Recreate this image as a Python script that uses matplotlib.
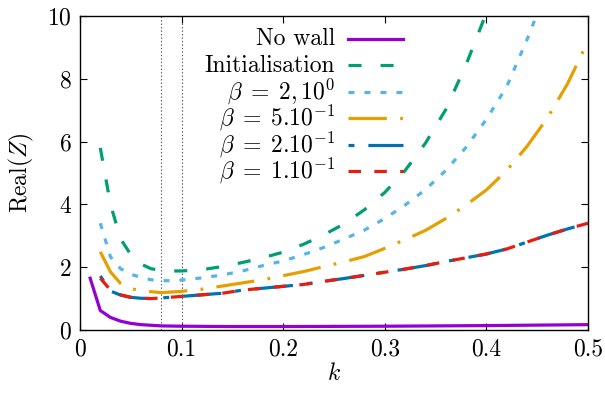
#!/usr/bin/env python3

import numpy as np
import matplotlib
matplotlib.use('Agg')
import matplotlib.pyplot as plt

plt.rcParams['font.family'] = 'serif'
plt.rcParams['font.serif'] = ['cmr10']
plt.rcParams['mathtext.fontset'] = 'cm'
plt.rcParams['axes.formatter.use_mathtext'] = True
plt.rcParams['lines.scale_dashes'] = False

# values
kNoWall = [0.01, 0.02, 0.03, 0.04, 0.05, 0.06, 0.08, 0.1, 0.15, 0.2, 0.3, 0.4, 0.5]
zNoWall = [1.65, 0.62, 0.40, 0.28, 0.21, 0.17, 0.13, 0.12, 0.11, 0.11, 0.12, 0.14, 0.17]

kInit = [0.02, 0.03, 0.04, 0.05, 0.06, 0.07, 0.08, 0.09, 0.1, 0.12, 0.14, 0.16,
         0.18, 0.2, 0.22, 0.24, 0.26, 0.28, 0.3, 0.32, 0.34, 0.36, 0.38, 0.4, 0.42]
zInit = [5.8, 4.0, 2.9, 2.4, 2.1, 1.95, 1.9, 1.88, 1.88, 1.92, 2.02, 2.15,
         2.3, 2.48, 2.73, 3.03, 3.38, 3.83, 4.38, 5.08, 5.95, 7.02, 8.45, 10.1, 12.2]

kB20 = [0.02, 0.03, 0.04, 0.05, 0.06, 0.07, 0.08, 0.09, 0.1, 0.12, 0.14, 0.16,
        0.18, 0.2, 0.22, 0.24, 0.26, 0.28, 0.3, 0.32, 0.34, 0.36, 0.38, 0.4,
        0.42, 0.44, 0.46]
zB20 = [3.4, 2.33, 1.95, 1.78, 1.67, 1.6, 1.57, 1.57, 1.59, 1.66, 1.75, 1.88,
        2.05, 2.2, 2.4, 2.63, 2.9, 3.18, 3.55, 3.98, 4.47, 5.08, 5.82, 6.71,
        7.75, 9.25, 10.9]

kB05 = [0.02, 0.03, 0.04, 0.05, 0.06, 0.08, 0.1, 0.12, 0.14, 0.16, 0.18, 0.2,
        0.22, 0.24, 0.26, 0.28, 0.3, 0.32, 0.34, 0.36, 0.38, 0.4, 0.42, 0.44,
        0.46, 0.48, 0.5]
zB05 = [2.49, 1.85, 1.48, 1.32, 1.25, 1.19, 1.23, 1.3, 1.4, 1.5, 1.6, 1.73,
        1.86, 2.02, 2.17, 2.34, 2.6, 2.88, 3.17, 3.55, 3.98, 4.46, 5.08, 5.85,
        6.75, 7.85, 9.2]

kB02 = [0.02, 0.03, 0.04, 0.05, 0.06, 0.07, 0.08, 0.1, 0.12, 0.14, 0.16, 0.18,
        0.2, 0.22, 0.24, 0.26, 0.28, 0.3, 0.32, 0.34, 0.36, 0.38, 0.4, 0.42,
        0.44, 0.46, 0.48, 0.5]
zB02 = [1.72, 1.24, 1.11, 1.04, 1.01, 1.0, 1.02, 1.07, 1.12, 1.17, 1.27, 1.33,
        1.39, 1.45, 1.55, 1.64, 1.74, 1.84, 1.94, 2.05, 2.18, 2.3, 2.42, 2.58,
        2.8, 3.02, 3.22, 3.4]

kB01 = kB02
zB01 = [1.65, 1.27, 1.12, 1.04, 1.01, 1.0, 1.02, 1.07, 1.12, 1.17, 1.27, 1.33,
        1.39, 1.45, 1.55, 1.64, 1.74, 1.84, 1.94, 2.05, 2.18, 2.3, 2.42, 2.58,
        2.8, 3.02, 3.22, 3.4]

vLines = [0.08, 0.1]

# (label, colour, dash pattern in points; None = solid)
series = [
    ('No wall', '#9400d3', None),
    ('Initialisation', '#009e73', (9.4, 13.7)),
    (r'$\beta\;=\;2,10^0$', '#56b4e9', (4.3, 7.2)),
    (r'$\beta\;=\;5.10^{-1}$', '#e69f00', (27.6, 9.6, 2, 9.6)),
    (r'$\beta\;=\;2.10^{-1}$', '#0072b2', (4.3, 10, 27.6, 10)),
    (r'$\beta\;=\;1.10^{-1}$', '#e51e10', (9, 9.6)),
]
curves = [(kNoWall, zNoWall), (kInit, zInit), (kB20, zB20),
          (kB05, zB05), (kB02, zB02), (kB01, zB01)]

fig = plt.figure(figsize=(6.05, 3.96), dpi=100)
ax = fig.add_axes([0.1322, 0.1667, 0.8397, 0.7929])

for xv in vLines:
    ax.axvline(xv, color='0.35', lw=0.8, ls=(0, (1, 1.5)), zorder=1)

lw = 2.3
for (k, z), (label, col, dash) in zip(curves, series):
    ln, = ax.plot(k, z, color=col, lw=lw, label=label)
    if dash:
        ln.set_dashes(dash)

ax.set_xlim(0, 0.5)
ax.set_ylim(0, 10)
ax.set_xticks([0, 0.1, 0.2, 0.3, 0.4, 0.5])
ax.set_xticklabels(['0', '0.1', '0.2', '0.3', '0.4', '0.5'])
ax.set_yticks([0, 2, 4, 6, 8, 10])
ax.tick_params(direction='in', top=True, right=True, length=5, width=0.8,
               labelsize=17, pad=6)
for sp in ax.spines.values():
    sp.set_linewidth(1.0)

ax.set_xlabel(r'$k$', fontsize=17, labelpad=2)
ax.set_ylabel(r'Real$(Z)$', fontsize=17, labelpad=8)

# gnuplot style key: right aligned text, sample to the right, even rows
rowY = 0.927
rowStep = 0.0843
for label, col, dash in series:
    ax.text(0.502, rowY - 0.02, label, transform=ax.transAxes,
            ha='right', va='baseline', fontsize=17)
    ln, = ax.plot([0.528, 0.636], [rowY, rowY], transform=ax.transAxes,
                  color=col, lw=lw, clip_on=False)
    if dash:
        ln.set_dashes(dash)
    rowY -= rowStep

plt.savefig('out.png', dpi=100)
